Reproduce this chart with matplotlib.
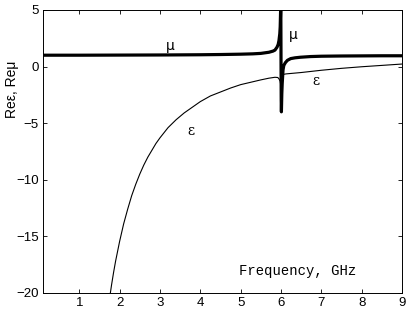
import matplotlib
matplotlib.use("Agg")
import matplotlib.pyplot as plt

## data ##

# permeability (thick line) #
f_mu = [0.1, 1.0, 2.0, 3.0, 4.0, 4.5, 5.0, 5.3, 5.5, 5.7, 5.8, 5.85, 5.9, 5.93,
        5.95, 5.97, 5.98, 5.99, 5.995, 6.0, 6.005, 6.01, 6.02, 6.03, 6.05, 6.07,
        6.11, 6.16, 6.24, 6.35, 6.48, 6.73, 7.0, 7.5, 8.0, 8.5, 9.0]
mu = [1.0, 1.0, 1.01, 1.02, 1.04, 1.06, 1.09, 1.12, 1.16, 1.26, 1.36, 1.45, 1.7, 1.95,
      2.3, 2.9, 3.5, 4.9, 5.5, 1.0, -3.0, -4.0, -2.4, -1.5, -0.3, 0.1,
      0.35, 0.55, 0.7, 0.77, 0.82, 0.88, 0.91, 0.93, 0.94, 0.95, 0.95]

# permittivity (thin line) #
f_eps = [1.70, 1.75, 1.80, 1.85, 1.90, 2.0, 2.1, 2.2, 2.3, 2.4, 2.5, 2.6, 2.7,
         2.8, 2.9, 3.0, 3.2, 3.4, 3.6, 3.8, 4.0, 4.25, 4.5, 4.75, 5.0, 5.25,
         5.5, 5.7, 5.85, 5.92, 5.95, 5.98, 6.0, 6.01, 6.02, 6.04, 6.13,
         6.5, 7.0, 7.5, 8.0, 8.5, 9.0]
eps = [-21.8, -20.5, -19.3, -18.2, -17.2, -15.45, -13.9, -12.6, -11.4, -10.4, -9.5, -8.7, -8.0,
       -7.4, -6.8, -6.3, -5.4, -4.7, -4.1, -3.6, -3.1, -2.6, -2.25, -1.9, -1.6, -1.39,
       -1.18, -1.03, -0.95, -0.97, -1.09, -1.3, -1.8, -1.2, -0.8, -0.7, -0.65,
       -0.53, -0.33, -0.16, -0.02, 0.1, 0.22]

x_ticks = [1, 2, 3, 4, 5, 6, 7, 8, 9]
y_ticks = [-20, -15, -10, -5, 0, 5]

## figure ##

fig = plt.figure(figsize=(4.09, 3.10), dpi=100)
ax = fig.add_axes([0.105, 0.055, 0.878, 0.913])

ax.plot(f_eps, eps, color="black", lw=0.8)
ax.plot(f_mu, mu, color="black", lw=2.3)

ax.set_xlim(0.1, 9)
ax.set_ylim(-20, 5)
ax.set_xticks(x_ticks)
ax.set_yticks(y_ticks)
ax.tick_params(direction="in", top=True, right=True, length=3, width=0.6,
               labelsize=9.5, pad=3)
for lab in ax.get_xticklabels() + ax.get_yticklabels():
    lab.set_family("Liberation Sans")
for sp in ax.spines.values():
    sp.set_linewidth(0.7)

ax.set_ylabel("Re\u03b5, Re\u03bc", fontfamily="Liberation Sans", fontsize=10)
ax.yaxis.set_label_coords(-0.066, 0.72)

# curve labels #
ax.text(3.26, 1.85, "\u03bc", fontsize=10, family="DejaVu Sans", ha="center", va="center")
ax.text(6.3, 2.75, "\u03bc", fontsize=10, family="DejaVu Sans", ha="center", va="center")
ax.text(6.86, -1.25, "\u03b5", fontsize=10, family="DejaVu Serif", ha="center", va="center")
ax.text(3.77, -5.66, "\u03b5", fontsize=10, family="DejaVu Serif", ha="center", va="center")
ax.text(4.97, -18.1, "Frequency, GHz", fontsize=10, family="Liberation Mono",
        ha="left", va="center")

plt.savefig("out.png", dpi=100)
plt.close()
